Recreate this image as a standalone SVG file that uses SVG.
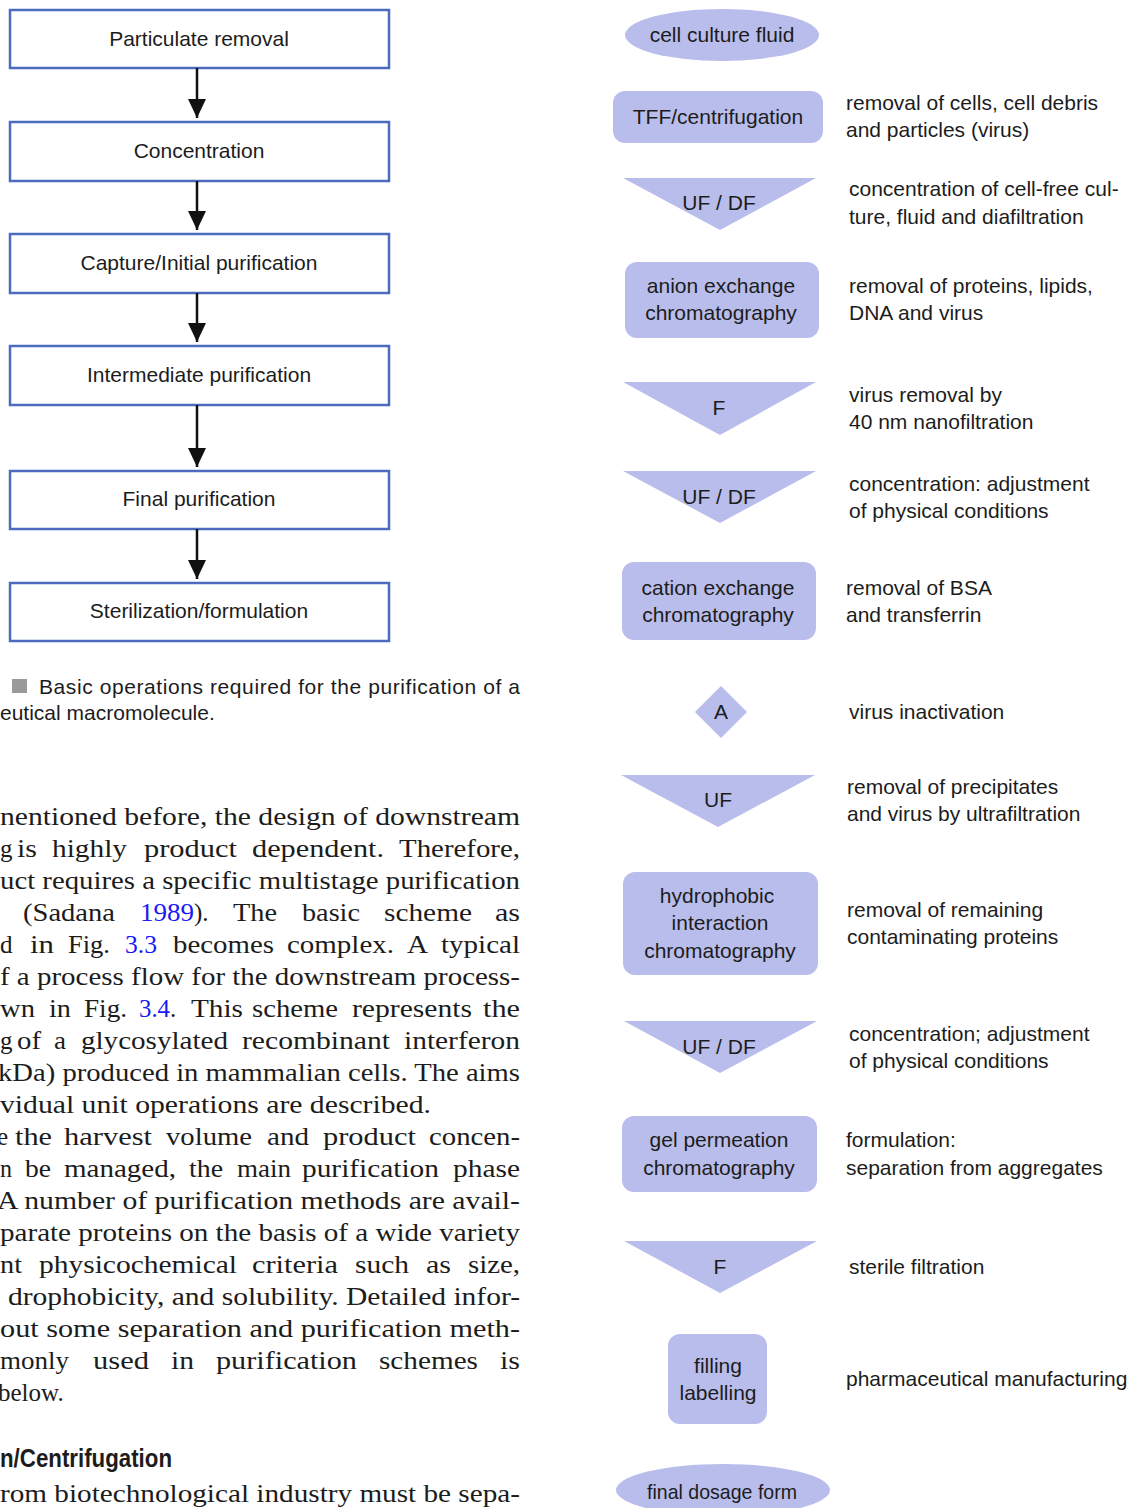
<svg xmlns="http://www.w3.org/2000/svg" width="1137" height="1508" viewBox="0 0 1137 1508">
<style>
.bx{fill:#fff;stroke:#4b6bbf;stroke-width:2.5}
.sh{fill:#b9bdeb}
.t{font-family:"Liberation Sans",Arial,sans-serif;font-size:21px;fill:#1c1c1c}
.c{text-anchor:middle}
.b{font-family:"Liberation Serif","Times New Roman",serif;font-size:25px;fill:#1c1c1c}
.lk{fill:#1a1af5}
.h{font-family:"Liberation Sans",Arial,sans-serif;font-weight:bold;font-size:26px;fill:#1c1c1c}
.cn{stroke:#111;stroke-width:2.5;fill:none}
</style>
<defs>
<marker id="ah" markerUnits="userSpaceOnUse" markerWidth="20" markerHeight="20" viewBox="0 0 20 20" refX="19" refY="10" orient="auto">
<path d="M0,1 L19,10 L0,19 Z" fill="#111"/>
</marker>
</defs>
<rect width="1137" height="1508" fill="#fff"/>

<!-- left flow -->
<g id="n-particulate"><rect class="bx" x="10" y="10" width="379" height="58"/><text class="t c" x="199" y="46">Particulate removal</text></g>
<g id="n-concentration"><rect class="bx" x="10" y="122" width="379" height="59"/><text class="t c" x="199" y="158">Concentration</text></g>
<g id="n-capture"><rect class="bx" x="10" y="234" width="379" height="59"/><text class="t c" x="199" y="270">Capture/Initial purification</text></g>
<g id="n-intermediate"><rect class="bx" x="10" y="346" width="379" height="59"/><text class="t c" x="199" y="382">Intermediate purification</text></g>
<g id="n-final"><rect class="bx" x="10" y="471" width="379" height="58"/><text class="t c" x="199" y="506">Final purification</text></g>
<g id="n-sterilization"><rect class="bx" x="10" y="583" width="379" height="58"/><text class="t c" x="199" y="618">Sterilization/formulation</text></g>
<g id="connectors">
<line class="cn" x1="197" y1="68" x2="197" y2="118" marker-end="url(#ah)"/>
<line class="cn" x1="197" y1="181" x2="197" y2="230" marker-end="url(#ah)"/>
<line class="cn" x1="197" y1="293" x2="197" y2="342" marker-end="url(#ah)"/>
<line class="cn" x1="197" y1="405" x2="197" y2="467" marker-end="url(#ah)"/>
<line class="cn" x1="197" y1="529" x2="197" y2="579" marker-end="url(#ah)"/>
</g>

<!-- caption -->
<g id="caption">
<rect x="12" y="679" width="15" height="14" fill="#9a9a9a"/>
<text class="t" x="39" y="694" textLength="481" lengthAdjust="spacing">Basic operations required for the purification of a</text>
<text class="t" x="0" y="720">eutical macromolecule.</text>
</g>

<!-- body text -->
<g id="body">
<text class="b" x="0" y="825" textLength="520" lengthAdjust="spacingAndGlyphs">nentioned before, the design of downstream</text>
<g id="l1">
<text class="b" x="0" y="857">g</text>
<text class="b" x="17" y="857" textLength="20" lengthAdjust="spacingAndGlyphs">is</text>
<text class="b" x="52" y="857" textLength="75" lengthAdjust="spacingAndGlyphs">highly</text>
<text class="b" x="144" y="857" textLength="93" lengthAdjust="spacingAndGlyphs">product</text>
<text class="b" x="252" y="857" textLength="132" lengthAdjust="spacingAndGlyphs">dependent.</text>
<text class="b" x="399" y="857" textLength="121" lengthAdjust="spacingAndGlyphs">Therefore,</text>
</g>
<text class="b" x="0" y="889" textLength="520" lengthAdjust="spacingAndGlyphs">uct requires a specific multistage purification</text>
<g id="l3">
<text class="b" x="23" y="921" textLength="92" lengthAdjust="spacingAndGlyphs">(Sadana</text>
<text class="b lk" x="140" y="921" textLength="54" lengthAdjust="spacingAndGlyphs">1989</text>
<text class="b" x="194" y="921">).</text>
<text class="b" x="233" y="921" textLength="44" lengthAdjust="spacingAndGlyphs">The</text>
<text class="b" x="302" y="921" textLength="58" lengthAdjust="spacingAndGlyphs">basic</text>
<text class="b" x="384" y="921" textLength="88" lengthAdjust="spacingAndGlyphs">scheme</text>
<text class="b" x="495" y="921" textLength="25" lengthAdjust="spacingAndGlyphs">as</text>
</g>
<g id="l4">
<text class="b" x="0" y="953">d</text>
<text class="b" x="30" y="953" textLength="24" lengthAdjust="spacingAndGlyphs">in</text>
<text class="b" x="68" y="953" textLength="42" lengthAdjust="spacingAndGlyphs">Fig.</text>
<text class="b lk" x="125" y="953" textLength="32" lengthAdjust="spacingAndGlyphs">3.3</text>
<text class="b" x="173" y="953" textLength="101" lengthAdjust="spacingAndGlyphs">becomes</text>
<text class="b" x="287" y="953" textLength="107" lengthAdjust="spacingAndGlyphs">complex.</text>
<text class="b" x="407" y="953" textLength="21" lengthAdjust="spacingAndGlyphs">A</text>
<text class="b" x="441" y="953" textLength="79" lengthAdjust="spacingAndGlyphs">typical</text>
</g>
<text class="b" x="0" y="985" textLength="520" lengthAdjust="spacingAndGlyphs">f a process flow for the downstream process-</text>
<g id="l6">
<text class="b" x="0" y="1017" textLength="35" lengthAdjust="spacingAndGlyphs">wn</text>
<text class="b" x="49" y="1017" textLength="22" lengthAdjust="spacingAndGlyphs">in</text>
<text class="b" x="84" y="1017" textLength="43" lengthAdjust="spacingAndGlyphs">Fig.</text>
<text class="b lk" x="139" y="1017" textLength="31" lengthAdjust="spacingAndGlyphs">3.4</text>
<text class="b" x="170" y="1017">.</text>
<text class="b" x="191" y="1017" textLength="52" lengthAdjust="spacingAndGlyphs">This</text>
<text class="b" x="252" y="1017" textLength="86" lengthAdjust="spacingAndGlyphs">scheme</text>
<text class="b" x="352" y="1017" textLength="120" lengthAdjust="spacingAndGlyphs">represents</text>
<text class="b" x="483" y="1017" textLength="37" lengthAdjust="spacingAndGlyphs">the</text>
</g>
<g id="l7">
<text class="b" x="0" y="1049">g</text>
<text class="b" x="17" y="1049" textLength="24" lengthAdjust="spacingAndGlyphs">of</text>
<text class="b" x="54" y="1049" textLength="12" lengthAdjust="spacingAndGlyphs">a</text>
<text class="b" x="81" y="1049" textLength="147" lengthAdjust="spacingAndGlyphs">glycosylated</text>
<text class="b" x="242" y="1049" textLength="148" lengthAdjust="spacingAndGlyphs">recombinant</text>
<text class="b" x="404" y="1049" textLength="116" lengthAdjust="spacingAndGlyphs">interferon</text>
</g>
<text class="b" x="-2" y="1081" textLength="522" lengthAdjust="spacingAndGlyphs">kDa) produced in mammalian cells. The aims</text>
<text class="b" x="0" y="1113" textLength="431" lengthAdjust="spacingAndGlyphs">vidual unit operations are described.</text>
<g id="l10">
<text class="b" x="-3" y="1145">e</text>
<text class="b" x="15" y="1145" textLength="37" lengthAdjust="spacingAndGlyphs">the</text>
<text class="b" x="64" y="1145" textLength="88" lengthAdjust="spacingAndGlyphs">harvest</text>
<text class="b" x="166" y="1145" textLength="86" lengthAdjust="spacingAndGlyphs">volume</text>
<text class="b" x="267" y="1145" textLength="42" lengthAdjust="spacingAndGlyphs">and</text>
<text class="b" x="323" y="1145" textLength="93" lengthAdjust="spacingAndGlyphs">product</text>
<text class="b" x="429" y="1145" textLength="91" lengthAdjust="spacingAndGlyphs">concen-</text>
</g>
<g id="l11">
<text class="b" x="0" y="1177" textLength="12" lengthAdjust="spacingAndGlyphs">n</text>
<text class="b" x="25" y="1177" textLength="26" lengthAdjust="spacingAndGlyphs">be</text>
<text class="b" x="64" y="1177" textLength="112" lengthAdjust="spacingAndGlyphs">managed,</text>
<text class="b" x="189" y="1177" textLength="34" lengthAdjust="spacingAndGlyphs">the</text>
<text class="b" x="237" y="1177" textLength="54" lengthAdjust="spacingAndGlyphs">main</text>
<text class="b" x="302" y="1177" textLength="137" lengthAdjust="spacingAndGlyphs">purification</text>
<text class="b" x="453" y="1177" textLength="67" lengthAdjust="spacingAndGlyphs">phase</text>
</g>
<text class="b" x="-3" y="1209" textLength="523" lengthAdjust="spacingAndGlyphs">A number of purification methods are avail-</text>
<text class="b" x="0" y="1241" textLength="520" lengthAdjust="spacingAndGlyphs">parate proteins on the basis of a wide variety</text>
<g id="l14">
<text class="b" x="0" y="1273" textLength="22" lengthAdjust="spacingAndGlyphs">nt</text>
<text class="b" x="39" y="1273" textLength="198" lengthAdjust="spacingAndGlyphs">physicochemical</text>
<text class="b" x="252" y="1273" textLength="86" lengthAdjust="spacingAndGlyphs">criteria</text>
<text class="b" x="355" y="1273" textLength="54" lengthAdjust="spacingAndGlyphs">such</text>
<text class="b" x="426" y="1273" textLength="25" lengthAdjust="spacingAndGlyphs">as</text>
<text class="b" x="468" y="1273" textLength="52" lengthAdjust="spacingAndGlyphs">size,</text>
</g>
<text class="b" x="8" y="1305" textLength="512" lengthAdjust="spacingAndGlyphs">drophobicity, and solubility. Detailed infor-</text>
<text class="b" x="0" y="1337" textLength="520" lengthAdjust="spacingAndGlyphs">out some separation and purification meth-</text>
<g id="l17">
<text class="b" x="0" y="1369" textLength="69" lengthAdjust="spacingAndGlyphs">monly</text>
<text class="b" x="93" y="1369" textLength="56" lengthAdjust="spacingAndGlyphs">used</text>
<text class="b" x="171" y="1369" textLength="23" lengthAdjust="spacingAndGlyphs">in</text>
<text class="b" x="216" y="1369" textLength="141" lengthAdjust="spacingAndGlyphs">purification</text>
<text class="b" x="379" y="1369" textLength="99" lengthAdjust="spacingAndGlyphs">schemes</text>
<text class="b" x="500" y="1369" textLength="20" lengthAdjust="spacingAndGlyphs">is</text>
</g>
<text class="b" x="-2" y="1401">below.</text>
<text class="h" x="0" y="1467" textLength="172" lengthAdjust="spacingAndGlyphs">n/Centrifugation</text>
<text class="b" x="0" y="1502" textLength="520" lengthAdjust="spacingAndGlyphs">rom biotechnological industry must be sepa-</text>
</g>

<!-- right flow -->
<g id="r-cellculture"><ellipse class="sh" cx="722" cy="35" rx="97" ry="26"/><text class="t c" x="722" y="42">cell culture fluid</text></g>
<g id="r-tff"><rect class="sh" x="613" y="91" width="210" height="52" rx="12"/><text class="t c" x="718" y="124">TFF/centrifugation</text>
<text class="t" x="846" y="110">removal of cells, cell debris</text><text class="t" x="846" y="137">and particles (virus)</text></g>
<g id="r-ufdf1"><path class="sh" d="M623,178 L816,178 L720,230 Z"/><text class="t c" x="719" y="210">UF / DF</text>
<text class="t" x="849" y="196">concentration of cell-free cul-</text><text class="t" x="849" y="224">ture, fluid and diafiltration</text></g>
<g id="r-anion"><rect class="sh" x="625" y="262" width="194" height="76" rx="12"/><text class="t c" x="721" y="293">anion exchange</text><text class="t c" x="721" y="320">chromatography</text>
<text class="t" x="849" y="293">removal of proteins, lipids,</text><text class="t" x="849" y="320">DNA and virus</text></g>
<g id="r-f1"><path class="sh" d="M623,382 L816,382 L720,435 Z"/><text class="t c" x="719" y="415">F</text>
<text class="t" x="849" y="402">virus removal by</text><text class="t" x="849" y="429">40 nm nanofiltration</text></g>
<g id="r-ufdf2"><path class="sh" d="M623,471 L816,471 L720,523 Z"/><text class="t c" x="719" y="504">UF / DF</text>
<text class="t" x="849" y="491">concentration: adjustment</text><text class="t" x="849" y="518">of physical conditions</text></g>
<g id="r-cation"><rect class="sh" x="622" y="562" width="194" height="78" rx="12"/><text class="t c" x="718" y="595">cation exchange</text><text class="t c" x="718" y="622">chromatography</text>
<text class="t" x="846" y="595">removal of BSA</text><text class="t" x="846" y="622">and transferrin</text></g>
<g id="r-a"><path class="sh" d="M721,686 L747,712 L721,738 L695,712 Z"/><text class="t c" x="721" y="719">A</text>
<text class="t" x="849" y="719">virus inactivation</text></g>
<g id="r-uf"><path class="sh" d="M621,775 L815,775 L718,827 Z"/><text class="t c" x="718" y="807">UF</text>
<text class="t" x="847" y="794">removal of precipitates</text><text class="t" x="847" y="821">and virus by ultrafiltration</text></g>
<g id="r-hic"><rect class="sh" x="623" y="872" width="195" height="103" rx="12"/><text class="t c" x="717" y="903">hydrophobic</text><text class="t c" x="720" y="930">interaction</text><text class="t c" x="720" y="958">chromatography</text>
<text class="t" x="847" y="917">removal of remaining</text><text class="t" x="847" y="944">contaminating proteins</text></g>
<g id="r-ufdf3"><path class="sh" d="M624,1021 L817,1021 L720,1073 Z"/><text class="t c" x="719" y="1054">UF / DF</text>
<text class="t" x="849" y="1041">concentration; adjustment</text><text class="t" x="849" y="1068">of physical conditions</text></g>
<g id="r-gel"><rect class="sh" x="622" y="1116" width="195" height="76" rx="12"/><text class="t c" x="719" y="1147">gel permeation</text><text class="t c" x="719" y="1175">chromatography</text>
<text class="t" x="846" y="1147">formulation:</text><text class="t" x="846" y="1175">separation from aggregates</text></g>
<g id="r-f2"><path class="sh" d="M624,1241 L817,1241 L720,1293 Z"/><text class="t c" x="720" y="1274">F</text>
<text class="t" x="849" y="1274">sterile filtration</text></g>
<g id="r-filling"><rect class="sh" x="668" y="1334" width="99" height="90" rx="12"/><text class="t c" x="718" y="1373">filling</text><text class="t c" x="718" y="1400">labelling</text>
<text class="t" x="846" y="1386">pharmaceutical manufacturing</text></g>
<g id="r-final"><ellipse class="sh" cx="723" cy="1490" rx="107" ry="26"/><text class="t c" x="722" y="1499" textLength="150" lengthAdjust="spacingAndGlyphs">final dosage form</text></g>
</svg>
